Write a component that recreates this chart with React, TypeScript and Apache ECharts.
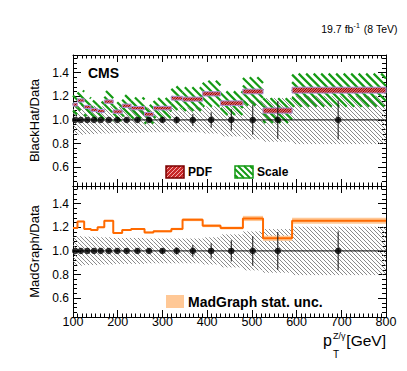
import React, { useEffect, useRef } from 'react';
import * as echarts from 'echarts';

// ---------- data ----------
const binEdges = [100, 110, 125, 140, 155, 170, 190, 210, 230, 260, 280, 320, 345, 390, 430, 480, 525, 590, 800];
const pointX = [105, 117.5, 132, 147, 162, 180, 199, 220, 244, 270, 300, 332, 368, 409, 454, 502, 558, 693];
const dataRatio = [1, 1, 1, 1, 1, 1, 1, 1, 1, 1, 1, 1, 1, 1, 1, 1, 1, 1];
const dataStatErr = [0.004, 0.004, 0.005, 0.006, 0.007, 0.008, 0.009, 0.011, 0.013, 0.016, 0.02, 0.03, 0.05, 0.065, 0.09, 0.125, 0.16, 0.165];
const dataSystBand = [0.125, 0.125, 0.12, 0.12, 0.115, 0.115, 0.11, 0.11, 0.11, 0.105, 0.105, 0.105, 0.105, 0.115, 0.14, 0.165, 0.185, 0.205];
const blackhatRatio = [1.13, 1.165, 1.11, 1.085, 1.075, 1.155, 1.07, 1.12, 1.1, 1.048, 1.1, 1.184, 1.176, 1.221, 1.142, 1.241, 1.079, 1.252];
const pdfUnc = [0.013, 0.013, 0.013, 0.013, 0.013, 0.014, 0.014, 0.014, 0.014, 0.015, 0.015, 0.016, 0.017, 0.018, 0.019, 0.02, 0.022, 0.025];
const scaleUnc = [0.085, 0.085, 0.08, 0.08, 0.08, 0.09, 0.08, 0.09, 0.09, 0.08, 0.085, 0.1, 0.1, 0.11, 0.1, 0.12, 0.105, 0.14];
const madgraphRatio = [1.195, 1.25, 1.185, 1.177, 1.2, 1.255, 1.152, 1.177, 1.186, 1.157, 1.166, 1.186, 1.264, 1.213, 1.194, 1.275, 1.107, 1.256];
const madgraphStat = [0.005, 0.006, 0.006, 0.006, 0.007, 0.007, 0.007, 0.008, 0.008, 0.008, 0.009, 0.01, 0.012, 0.012, 0.012, 0.022, 0.022, 0.025];
const yTickValues = [0.6, 0.8, 1.0, 1.2, 1.4];
const xRange = [100, 800];
const yRange = [0.44, 1.55];

// ---------- styles ----------
const FONT = '"Liberation Sans", Arial, Helvetica, sans-serif';
const GRAY = '#7d7d7d';
const GREEN = '#139a13';
const ORANGE = '#ff6a00';
const ORANGE_BAND = '#ffc896';

function hatchSegs(x0: number, y0: number, x1: number, y1: number, s: number, dir: number) {
  const out: number[][] = [];
  if (dir > 0) {
    const kmin = Math.ceil((y0 - x1) / s), kmax = Math.floor((y1 - x0) / s);
    for (let k = kmin; k <= kmax; k++) {
      const c = k * s;
      const xa = Math.max(x0, y0 - c), xb = Math.min(x1, y1 - c);
      if (xb > xa) out.push([xa, xa + c, xb, xb + c]);
    }
  } else {
    const kmin = Math.ceil((x0 + y0) / s), kmax = Math.floor((x1 + y1) / s);
    for (let k = kmin; k <= kmax; k++) {
      const c = k * s;
      const xa = Math.max(x0, c - y1), xb = Math.min(x1, c - y0);
      if (xb > xa) out.push([xa, c - xa, xb, c - xb]);
    }
  }
  return out;
}

function hatchChildren(x0: number, y0: number, x1: number, y1: number, opt: any) {
  const ch: any[] = [];
  if (opt.fill) ch.push({ type: 'rect', shape: { x: x0, y: y0, width: x1 - x0, height: y1 - y0 }, style: { fill: opt.fill, stroke: 'none' } });
  for (const s of hatchSegs(x0, y0, x1, y1, opt.spacing, opt.dir)) {
    ch.push({ type: 'line', shape: { x1: s[0], y1: s[1], x2: s[2], y2: s[3] }, style: { stroke: opt.color, lineWidth: opt.width } });
  }
  if (opt.edge) ch.push({ type: 'rect', shape: { x: x0, y: y0, width: x1 - x0, height: y1 - y0 }, style: { fill: 'none', stroke: opt.edge, lineWidth: opt.edgeWidth || 1 } });
  return ch;
}

function bandRender(opt: any) {
  return (params: any, api: any) => {
    const a = api.coord([api.value(0), api.value(3)]);
    const b = api.coord([api.value(1), api.value(2)]);
    const cs = params.coordSys;
    const x0 = Math.max(a[0], cs.x), x1 = Math.min(b[0], cs.x + cs.width);
    const y0 = Math.max(a[1], cs.y), y1 = Math.min(b[1], cs.y + cs.height);
    if (x1 <= x0 || y1 <= y0) return undefined;
    return { type: 'group', children: hatchChildren(x0, y0, x1, y1, opt) };
  };
}

const errRender = (params: any, api: any) => {
  const a = api.coord([api.value(0), api.value(1)]);
  const b = api.coord([api.value(0), api.value(2)]);
  return { type: 'line', shape: { x1: a[0], y1: a[1], x2: b[0], y2: b[1] }, style: { stroke: '#111', lineWidth: 1 } };
};

function bandRows(center: number[], half: number[]) {
  return center.map((c, i) => [binEdges[i], binEdges[i + 1], c - half[i], c + half[i]]);
}

const grayOpt = { color: GRAY, width: 0.9, spacing: 4, dir: 1 };
const greenOpt = { color: GREEN, width: 2.2, spacing: 7.5, dir: 1 };
const pdfOpt = { fill: '#e06a6a', color: '#8a0000', width: 1, spacing: 2.5, dir: -1, edge: '#a890d8' };
const madOpt = { fill: ORANGE_BAND, color: ORANGE_BAND, width: 0, spacing: 1000, dir: 1 };

function xAxisDef(gridIndex: number, position: string, showLabels: boolean) {
  return {
    type: 'value', gridIndex, position, min: xRange[0], max: xRange[1], interval: 100,
    axisLine: { show: true, onZero: false, lineStyle: { color: '#000', width: 1 } },
    axisTick: { show: true, inside: true, length: 7, lineStyle: { color: '#000', width: 1 } },
    minorTick: { show: true, splitNumber: 10, length: 3.5, lineStyle: { color: '#000', width: 1 } },
    axisLabel: { show: showLabels, fontFamily: FONT, fontSize: 12.5, lineHeight: 11, color: '#000', margin: 5, verticalAlign: 'middle' },
    splitLine: { show: false }, minorSplitLine: { show: false },
  };
}

function yAxisDef(gridIndex: number, position: string, major: boolean, labels: boolean, name?: string) {
  const ax: any = {
    type: 'value', gridIndex, position, min: yRange[0], max: yRange[1],
    axisLine: { show: major, onZero: false, lineStyle: { color: '#000', width: 1 } },
    axisTick: { show: true, inside: true, length: major ? 8 : 4, lineStyle: { color: '#000', width: 1 } },
    axisLabel: { show: labels, fontFamily: FONT, fontSize: 12, color: '#000', margin: 4, formatter: (v: number) => v.toFixed(1) },
    splitLine: { show: false },
  };
  if (name) {
    ax.name = name;
    ax.nameLocation = 'middle';
    ax.nameGap = 26;
    ax.nameRotate = 90;
    ax.nameTextStyle = { fontFamily: FONT, fontSize: 13, color: '#000' };
  }
  if (major) {
    ax.axisTick.customValues = yTickValues;
    ax.axisLabel.customValues = yTickValues;
  } else {
    ax.interval = 0.04;
  }
  return ax;
}

function legendBox(x: number, y: number, w: number, h: number, opt: any) {
  return { type: 'group', children: hatchChildren(x, y, x + w, y + h, opt) };
}

export default function App() {
  const ref = useRef<HTMLDivElement>(null);
  useEffect(() => {
    const chart = echarts.init(ref.current!, null, { renderer: 'svg' });
    const pts = pointX.map((x, i) => [x, dataRatio[i]]);
    const errs = pointX.map((x, i) => [x, dataRatio[i] - dataStatErr[i], dataRatio[i] + dataStatErr[i]]);
    const stepData = madgraphRatio.map((v, i) => [binEdges[i], v]).concat([[binEdges[binEdges.length - 1], madgraphRatio[madgraphRatio.length - 1]]]);
    const oneLine = [[xRange[0], 1], [xRange[1], 1]];
    const custom = (name: string, xi: number, yi: number, data: any[], render: any, z: number) => ({
      type: 'custom', name, xAxisIndex: xi, yAxisIndex: yi, data, renderItem: render, z, silent: true,
      encode: { x: [0, 1], y: [2, 3] },
    });

    const option: any = {
      animation: false,
      backgroundColor: '#fff',
      grid: [
        { left: 73, top: 55, width: 313, height: 131 },
        { left: 73, top: 186, width: 313, height: 131 },
      ],
      xAxis: [
        xAxisDef(0, 'bottom', false), xAxisDef(0, 'top', false),
        xAxisDef(1, 'bottom', true), xAxisDef(1, 'top', false),
      ],
      yAxis: [
        yAxisDef(0, 'left', true, true, 'BlackHat/Data'), yAxisDef(0, 'left', false, false),
        yAxisDef(0, 'right', true, false), yAxisDef(0, 'right', false, false),
        yAxisDef(1, 'left', true, true, 'MadGraph/Data'), yAxisDef(1, 'left', false, false),
        yAxisDef(1, 'right', true, false), yAxisDef(1, 'right', false, false),
      ],
      series: [
        // top panel
        custom('Data unc. top', 0, 0, bandRows(dataRatio, dataSystBand), bandRender(grayOpt), 1),
        custom('Scale', 0, 0, bandRows(blackhatRatio, scaleUnc), bandRender(greenOpt), 2),
        custom('PDF', 0, 0, bandRows(blackhatRatio, pdfUnc), bandRender(pdfOpt), 3),
        { type: 'line', xAxisIndex: 0, yAxisIndex: 0, data: oneLine, symbol: 'none', lineStyle: { color: '#000', width: 1 }, z: 4, silent: true },
        { type: 'custom', xAxisIndex: 0, yAxisIndex: 0, data: errs, renderItem: errRender, z: 5, silent: true, encode: { x: 0, y: [1, 2] } },
        { type: 'scatter', xAxisIndex: 0, yAxisIndex: 0, data: pts, symbol: 'circle', symbolSize: 6.5, itemStyle: { color: '#000' }, z: 6, silent: true },
        // bottom panel
        custom('Data unc. bottom', 2, 4, bandRows(dataRatio, dataSystBand), bandRender(grayOpt), 1),
        custom('MadGraph stat. unc.', 2, 4, bandRows(madgraphRatio, madgraphStat), bandRender(madOpt), 2),
        { type: 'line', xAxisIndex: 2, yAxisIndex: 4, data: stepData, step: 'end', symbol: 'none', lineStyle: { color: ORANGE, width: 2 }, z: 3, silent: true },
        { type: 'line', xAxisIndex: 2, yAxisIndex: 4, data: oneLine, symbol: 'none', lineStyle: { color: '#000', width: 1 }, z: 4, silent: true },
        { type: 'custom', xAxisIndex: 2, yAxisIndex: 4, data: errs, renderItem: errRender, z: 5, silent: true, encode: { x: 0, y: [1, 2] } },
        { type: 'scatter', xAxisIndex: 2, yAxisIndex: 4, data: pts, symbol: 'circle', symbolSize: 6.5, itemStyle: { color: '#000' }, z: 6, silent: true },
      ],
      graphic: [
        { type: 'text', left: 88, top: 66, style: { text: 'CMS', font: `bold 14px ${FONT}`, fill: '#000' } },
        { type: 'text', x: 353.4, y: 29, style: { text: '19.7 fb', font: `10.5px ${FONT}`, fill: '#000', align: 'right', verticalAlign: 'middle' } },
        { type: 'text', x: 353.6, y: 25.5, style: { text: '-1', font: `7px ${FONT}`, fill: '#000', align: 'left', verticalAlign: 'middle' } },
        { type: 'text', x: 397.5, y: 29, style: { text: ' (8 TeV)', font: `10.5px ${FONT}`, fill: '#000', align: 'right', verticalAlign: 'middle' } },
        { type: 'text', x: 323, y: 340, style: { text: 'p', font: `16px ${FONT}`, fill: '#000', align: 'left', verticalAlign: 'middle' } },
        { type: 'text', x: 333, y: 335.5, style: { text: 'Z/γ', font: `9px ${FONT}`, lineHeight: 9, fill: '#000', align: 'left', verticalAlign: 'middle' } },
        { type: 'text', x: 333, y: 354, style: { text: 'T', font: `10px ${FONT}`, fill: '#000', align: 'left', verticalAlign: 'middle' } },
        { type: 'text', x: 386, y: 340, style: { text: '[GeV]', font: `15.5px ${FONT}`, fill: '#000', align: 'right', verticalAlign: 'middle' } },
        legendBox(166, 166, 18, 12, { fill: '#c82828', color: '#f3a8a8', width: 1, spacing: 4, dir: -1, edge: '#7a0000', edgeWidth: 1.5 }),
        { type: 'text', x: 188, y: 172, style: { text: 'PDF', font: `bold 12px ${FONT}`, fill: '#000', align: 'left', verticalAlign: 'middle' } },
        legendBox(235, 166, 18, 12, { fill: '#fff', color: GREEN, width: 2, spacing: 6, dir: 1, edge: GREEN, edgeWidth: 1.5 }),
        { type: 'text', x: 257, y: 172, style: { text: 'Scale', font: `bold 12px ${FONT}`, fill: '#000', align: 'left', verticalAlign: 'middle' } },
        { type: 'rect', shape: { x: 166, y: 295, width: 18, height: 13 }, style: { fill: ORANGE_BAND } },
        { type: 'text', x: 188, y: 301.5, style: { text: 'MadGraph stat. unc.', font: `bold 14px ${FONT}`, fill: '#000', align: 'left', verticalAlign: 'middle' } },
      ],
    };
    chart.setOption(option);
    return () => chart.dispose();
  }, []);
  return <div ref={ref} style={{ position: 'fixed', left: 0, top: 0, width: 407, height: 371, background: '#fff' }} />;
}
